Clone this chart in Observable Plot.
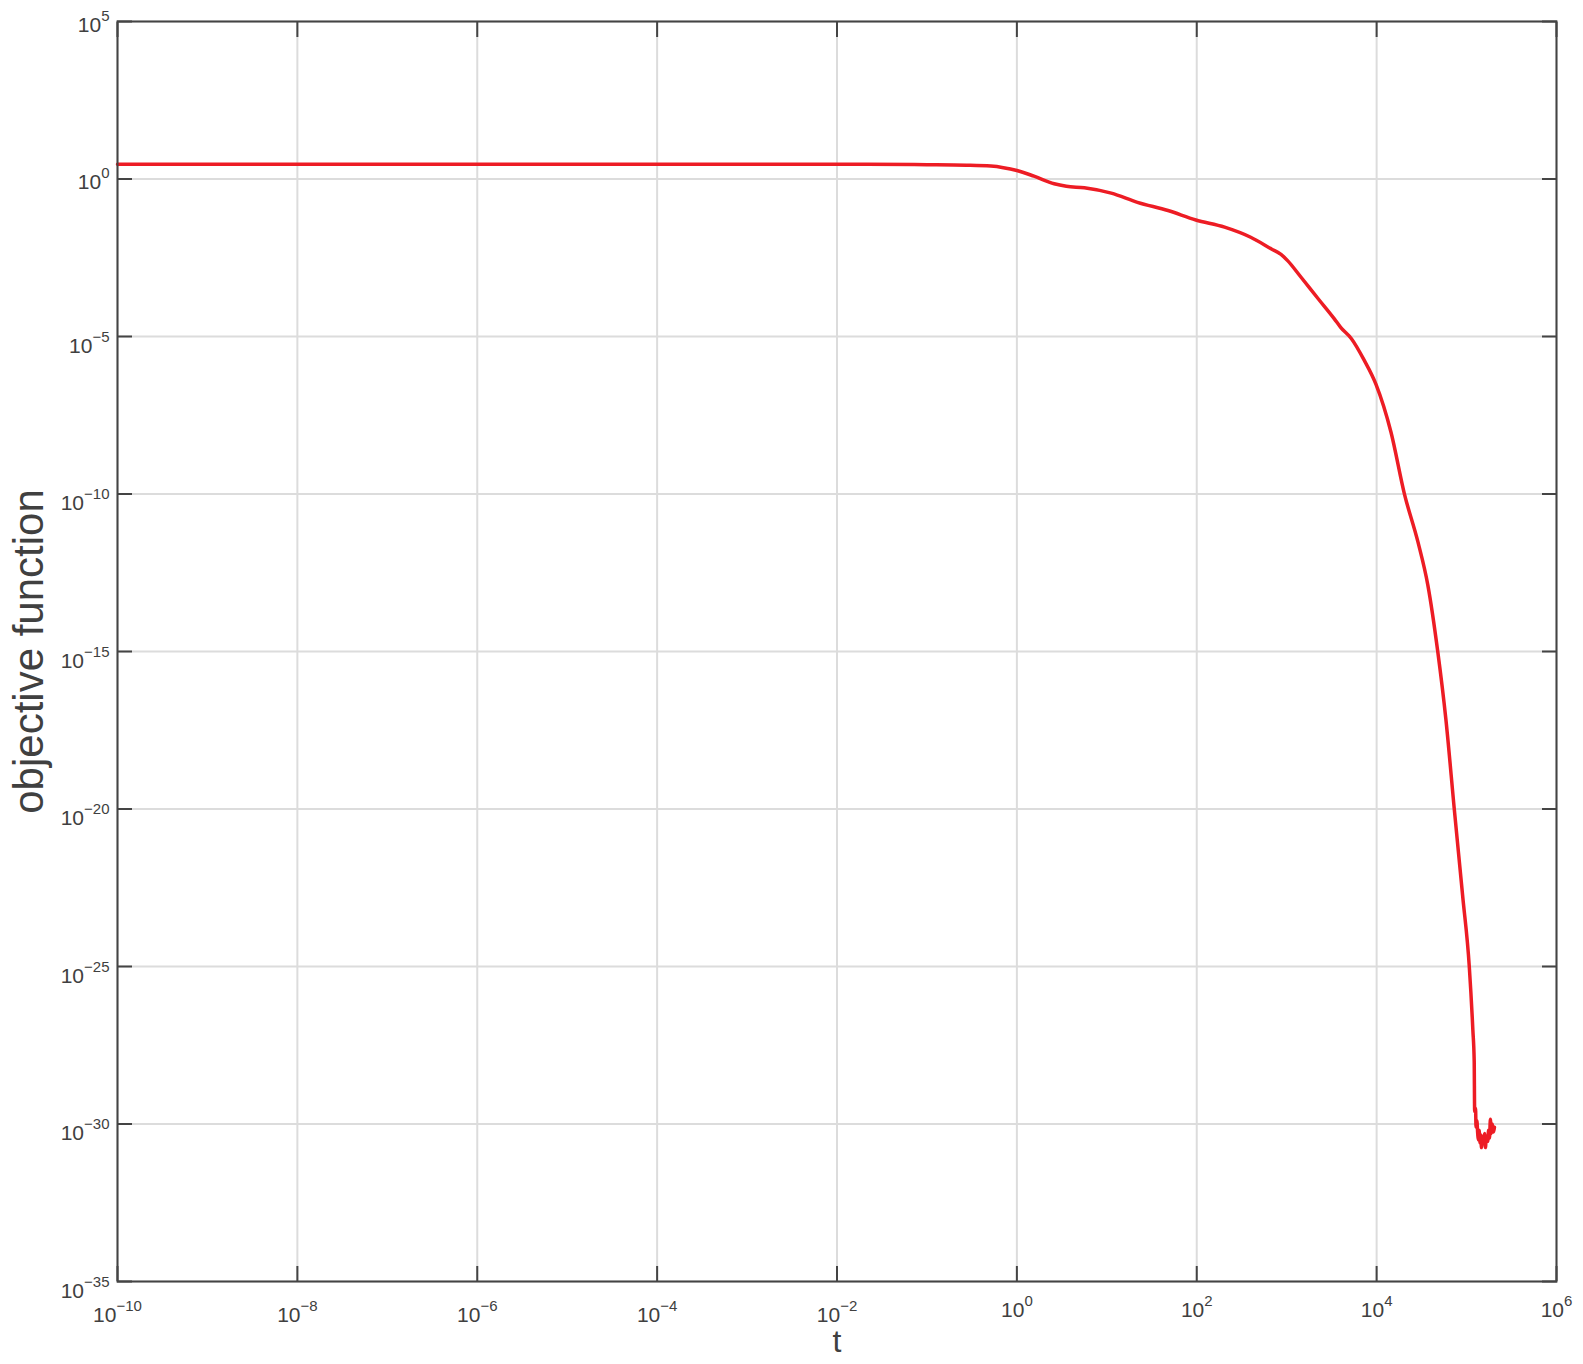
<!DOCTYPE html>
<html><head><meta charset="utf-8">
<script src="https://cdn.jsdelivr.net/npm/d3@7"></script>
<script src="https://cdn.jsdelivr.net/npm/@observablehq/plot@0.6"></script>
<style>body{margin:0;background:#fff;} svg{display:block}</style>
</head><body><div id="chart"></div>
<script>
// time values (t)
const tValues = [1e-10, 2.14e-2, 0.1, 0.275, 0.513, 0.708, 1, 1.55, 2.6, 3.55, 5.62, 11.2, 21.9, 47.9, 97.7, 204, 398, 676, 871, 1023, 1445, 2239, 3388, 3981, 5248, 7295, 9840, 14450, 20420, 28840, 37150, 47860, 58880, 73110, 90570, 107200, 117500, 121600, 123000, 125900, 127400, 130300, 133000, 134900, 138000, 141300, 144500, 146200, 149600, 154900, 158500, 162200, 166000, 171800, 175800, 179900, 184100, 188400, 192800, 199500, 204200];
// objective function values
const fValues = [2.92, 2.92, 2.85, 2.75, 2.57, 2.29, 1.86, 1.23, 0.708, 0.589, 0.525, 0.355, 0.182, 0.1, 0.0501, 0.0295, 0.0141, 6.03e-3, 3.98e-3, 2.57e-3, 7.59e-4, 1.58e-4, 3.63e-5, 1.95e-5, 8.51e-6, 1.74e-6, 3.02e-7, 9.12e-9, 9.77e-11, 2.95e-12, 1.26e-13, 9.77e-16, 7.08e-18, 9.55e-21, 1.70e-23, 1e-25, 9.55e-28, 1e-28, 2.51e-30, 3.16e-30, 7.94e-31, 1.26e-30, 5.01e-31, 3.16e-31, 6.31e-31, 2.51e-31, 4.47e-31, 1.78e-31, 3.98e-31, 2.51e-31, 5.01e-31, 1.78e-31, 3.98e-31, 2.82e-31, 6.31e-31, 3.55e-31, 1.41e-30, 5.01e-31, 1e-30, 5.62e-31, 7.94e-31];

const xTicks = [1e-10, 1e-8, 1e-6, 1e-4, 1e-2, 1, 1e2, 1e4, 1e6];
const xTickExponents = ["−10", "−8", "−6", "−4", "−2", "0", "2", "4", "6"];
const yTicks = [1e5, 1, 1e-5, 1e-10, 1e-15, 1e-20, 1e-25, 1e-30, 1e-35];
const yTickExponents = ["5", "0", "−5", "−10", "−15", "−20", "−25", "−30", "−35"];
const xLabel = "t";
const yLabel = "objective function";

const data = tValues.map((t, i) => ({t, f: fValues[i]}));
const xLab = new Map(xTicks.map((d, i) => [d, "10^" + xTickExponents[i]]));
const yLab = new Map(yTicks.map((d, i) => [d, "10^" + yTickExponents[i]]));

const axisColor = "#444444";
const textColor = "#404040";
const tickOpts = {tickSize: -15, tickFormat: () => "", stroke: axisColor, strokeWidth: 2, label: null};

const plot = Plot.plot({
  width: 1583, height: 1364,
  marginLeft: 117, marginRight: 27, marginTop: 21, marginBottom: 83,
  x: {type: "log", domain: [1e-10, 1e6]},
  y: {type: "log", domain: [1e-35, 1e5]},
  style: {fontFamily: "'Liberation Sans', Arial, Helvetica, sans-serif", color: textColor, background: "#fff"},
  marks: [
    Plot.gridX(xTicks, {stroke: "#dcdcdc", strokeOpacity: 1, strokeWidth: 2}),
    Plot.gridY(yTicks, {stroke: "#dcdcdc", strokeOpacity: 1, strokeWidth: 2}),
    Plot.line(data, {x: "t", y: "f", stroke: "#ED1C24", strokeWidth: 3.5, curve: "monotone-x"}),
    Plot.frame({stroke: axisColor, strokeWidth: 2}),
    Plot.axisX(xTicks, {anchor: "bottom", ...tickOpts}),
    Plot.axisX(xTicks, {anchor: "top", ...tickOpts}),
    Plot.axisY(yTicks, {anchor: "left", ...tickOpts}),
    Plot.axisY(yTicks, {anchor: "right", ...tickOpts}),
    Plot.text(xTicks, {x: d => d, y: 1e-35, text: d => xLab.get(d), filter: d => d < 1, lineAnchor: "bottom", dy: 40, fontSize: 21, fill: textColor}),
    Plot.text(xTicks, {x: d => d, y: 1e-35, text: d => xLab.get(d), filter: d => d >= 1, lineAnchor: "bottom", dy: 35, fontSize: 21, fill: textColor}),
    Plot.text(yTicks, {x: 1e-10, y: d => d, text: d => yLab.get(d), filter: d => d < 1, textAnchor: "end", lineAnchor: "bottom", dx: -8, dy: 16, fontSize: 21, fill: textColor}),
    Plot.text(yTicks, {x: 1e-10, y: d => d, text: d => yLab.get(d), filter: d => d >= 1, textAnchor: "end", lineAnchor: "bottom", dx: -8, dy: 10, fontSize: 21, fill: textColor}),
    Plot.text([yLabel], {frameAnchor: "left", textAnchor: "middle", text: d => d, rotate: -90, dx: -88, fontSize: 42, fill: textColor}),
    Plot.text([xLabel], {frameAnchor: "bottom", text: d => d, lineAnchor: "bottom", dy: 70, fontSize: 32, fill: textColor})
  ]
});

// turn "10^e" labels into base + superscript
plot.querySelectorAll("text").forEach(el => {
  const s = el.textContent;
  if (s.includes("^")) {
    const [base, exp] = s.split("^");
    el.textContent = "";
    const ns = "http://www.w3.org/2000/svg";
    const t1 = document.createElementNS(ns, "tspan");
    t1.textContent = base;
    const t2 = document.createElementNS(ns, "tspan");
    t2.textContent = exp;
    t2.setAttribute("font-size", "15");
    t2.setAttribute("dy", "-11");
    el.appendChild(t1);
    el.appendChild(t2);
  }
});

document.getElementById("chart").appendChild(plot);
</script>
</body></html>
